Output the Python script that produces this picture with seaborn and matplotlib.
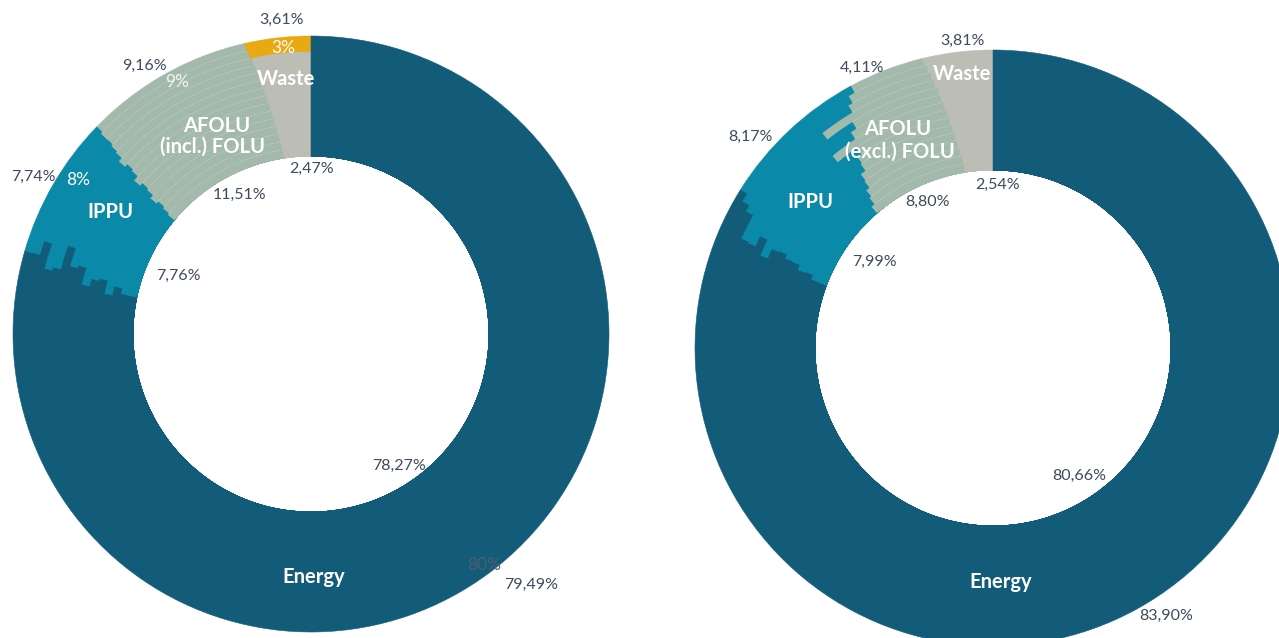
import matplotlib
matplotlib.use("Agg")
import matplotlib.pyplot as plt
import seaborn as sns
import numpy as np

# ---------------- data (rings: innermost -> outermost) ----------------
categories = ["Waste", "AFOLU", "IPPU", "Energy"]

left_waste = [2.47, 2.52, 2.60, 2.66, 2.75, 2.81, 2.90, 2.97, 3.05, 3.12, 3.20, 3.30, 3.38, 3.50, 3.61]
left_afolu = [11.51, 11.30, 11.05, 11.20, 10.80, 10.60, 10.75, 10.30, 10.10, 10.25, 9.90, 9.70, 9.50, 9.40, 9.16]
left_ippu = [7.76, 7.90, 7.60, 8.10, 7.40, 7.70, 8.00, 7.20, 7.50, 6.10, 7.90, 8.20, 6.80, 7.60, 7.74]
left_energy = [78.27, 78.28, 78.75, 78.04, 79.05, 78.89, 78.35, 79.53, 79.35, 80.53, 79.00, 78.80, 80.32, 79.50, 79.49]

right_waste = [2.54, 2.60, 2.70, 2.78, 2.88, 2.95, 3.05, 3.12, 3.20, 3.30, 3.38, 3.50, 3.58, 3.70, 3.81]
right_afolu = [8.80, 8.40, 8.10, 7.70, 7.50, 7.00, 6.80, 6.40, 7.90, 6.00, 5.50, 7.20, 5.00, 4.60, 4.11]
right_ippu = [7.99, 8.30, 8.10, 8.50, 8.20, 8.60, 8.40, 8.80, 7.90, 8.60, 9.70, 7.80, 8.40, 8.30, 8.17]
right_energy = [80.66, 80.70, 81.10, 81.02, 81.42, 81.45, 81.75, 81.68, 81.00, 82.10, 81.42, 81.50, 83.02, 83.40, 83.90]

left_rounded = [3, 9, 8, 80]   # rounded shares shown on the outer ring (left chart)

# ---------------- style ----------------
sns.set_theme(style="white")
plt.rcParams["font.family"] = ["Lato", "DejaVu Sans"]

palette = sns.color_palette(["#BCBDB5", "#A3B9AB", "#0A89A8", "#125C7A"])
highlight = "#E8A912"
txt = "#3E4A5F"

W, H = 1279, 638
fig = plt.figure(figsize=(W / 100, H / 100), dpi=100)
ax = fig.add_axes([0, 0, 1, 1])
ax.set_xlim(0, W)
ax.set_ylim(0, H)
ax.set_aspect("equal")
ax.axis("off")

R_IN, R_OUT = 178, 298


def draw_donut(cx, cy, series, yellow_rings=()):
    n = len(series[0])
    step = (R_OUT - R_IN) / n
    # draw from outermost ring inwards; each ring covers down to the hole,
    # so inner rings overlay outer ones without seams
    for i in reversed(range(n)):
        vals = [s[i] for s in series]
        cols = list(palette)
        if i in yellow_rings:
            cols[0] = highlight
        r = R_IN + step * (i + 1)
        wedges, _ = ax.pie(vals, radius=r, center=(cx, cy),
                           startangle=90, counterclock=True, colors=cols,
                           wedgeprops=dict(width=r - R_IN))
        for k, w in enumerate(wedges):
            w.set_edgecolor(cols[k])
            w.set_linewidth(0.4)
        # faint separator arc on the AFOLU wedge
        if i > 0:
            wl, _ = ax.pie(vals, radius=r - step, center=(cx, cy),
                           startangle=90, counterclock=True,
                           colors=["none"] * 4,
                           wedgeprops=dict(width=0.01, linewidth=0))
            for k, w in enumerate(wl):
                if k == 1:
                    w.set_edgecolor((1, 1, 1, 0.45))
                    w.set_linewidth(0.5)


def fmt(v):
    return f"{v:.2f}".replace(".", ",") + "%"


def t(x, y, s, color=txt, size=11.5, weight="normal"):
    ax.text(x, H - y, s, color=color, fontsize=size, fontweight=weight,
            ha="center", va="center")


BOLD = 14.5

# ---------------- left donut ----------------
draw_donut(311, H - 334, [left_waste, left_afolu, left_ippu, left_energy], yellow_rings=(13, 14))

t(282, 20, fmt(left_waste[-1]))
t(144, 66, fmt(left_afolu[-1]))
t(33, 177, fmt(left_ippu[-1]))
t(531, 585, fmt(left_energy[-1]))
t(312, 169, fmt(left_waste[0]))
t(239, 195, fmt(left_afolu[0]))
t(178, 276, fmt(left_ippu[0]))
t(399, 466, fmt(left_energy[0]))

t(283, 48, f"{left_rounded[0]}%", color="white", size=12.5)
t(177, 82, f"{left_rounded[1]}%", color=(1, 1, 1, 0.85), size=12.5)
t(78, 180, f"{left_rounded[2]}%", color="white", size=12.5)
t(484, 565, f"{left_rounded[3]}%", color="#4F5C6E", size=12.5)

t(286, 79, "Waste", color="white", size=BOLD, weight="bold")
t(217, 126, "AFOLU", color="white", size=BOLD, weight="bold")
t(213, 147, "(incl.) FOLU", color="white", size=BOLD, weight="bold")
t(110, 212, "IPPU", color="white", size=BOLD, weight="bold")
t(314, 577, "Energy", color="white", size=BOLD, weight="bold")

# ---------------- right donut ----------------
draw_donut(993, H - 348, [right_waste, right_afolu, right_ippu, right_energy])

t(962, 41, fmt(right_waste[-1]))
t(862, 68, fmt(right_afolu[-1]))
t(750, 137, fmt(right_ippu[-1]))
t(1166, 616, fmt(right_energy[-1]))
t(998, 185, fmt(right_waste[0]))
t(928, 202, fmt(right_afolu[0]))
t(874, 262, fmt(right_ippu[0]))
t(1079, 476, fmt(right_energy[0]))

t(962, 74, "Waste", color="white", size=BOLD, weight="bold")
t(898, 129, "AFOLU", color="white", size=BOLD, weight="bold")
t(900, 152, "(excl.) FOLU", color="white", size=BOLD, weight="bold")
t(810, 202, "IPPU", color="white", size=BOLD, weight="bold")
t(1001, 582, "Energy", color="white", size=BOLD, weight="bold")

ax.set_xlim(0, W)
ax.set_ylim(0, H)
fig.savefig("out.png", dpi=100, facecolor="white")
